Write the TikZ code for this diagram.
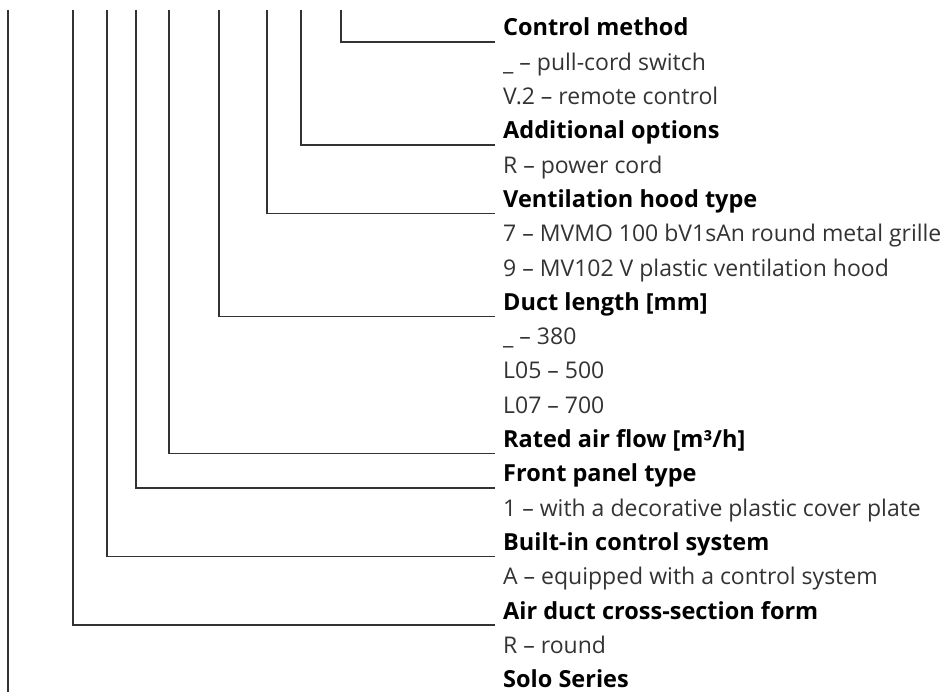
\documentclass[tikz,border=0pt]{standalone}
\usepackage{fontspec}
\setmainfont{Open Sans}

\tikzset{
	head/.style={anchor=base west, inner xsep=8pt, inner ysep=0pt,
		font=\fontsize{23.5}{28}\selectfont\bfseries},
	opt/.style={anchor=base west, inner xsep=8pt, inner ysep=0pt,
		text=black!80, font=\fontsize{23}{28}\selectfont},
	lead/.style={draw=black!80, line width=1.3pt},
}

\begin{document}
\begin{tikzpicture}[x=1pt, y=-1pt]
	\clip (0,0) rectangle (945,692);
	% legend column, one row under the other
	\node[head] (ctrl) at (495,36) {Control method};
	\node[opt] (ctrl1) at ([yshift=-34.3pt]ctrl.base west) {\_ – pull-cord switch};
	\node[opt] (ctrl2) at ([yshift=-34.3pt]ctrl1.base west) {V.2 – remote control};
	\node[head] (extra) at ([yshift=-34.3pt]ctrl2.base west) {Additional options};
	\node[opt] (extra1) at ([yshift=-34.3pt]extra.base west) {R – power cord};
	\node[head] (hood) at ([yshift=-34.3pt]extra1.base west) {Ventilation hood type};
	\node[opt] (hood1) at ([yshift=-34.3pt]hood.base west) {7 – MVMO 100 bV1sAn round metal grille};
	\node[opt] (hood2) at ([yshift=-34.3pt]hood1.base west) {9 – MV102 V plastic ventilation hood};
	\node[head] (len) at ([yshift=-34.3pt]hood2.base west) {Duct length [mm]};
	\node[opt] (len1) at ([yshift=-34.3pt]len.base west) {\_ – 380};
	\node[opt] (len2) at ([yshift=-34.3pt]len1.base west) {L05 – 500};
	\node[opt] (len3) at ([yshift=-34.3pt]len2.base west) {L07 – 700};
	\node[head] (flow) at ([yshift=-34.3pt]len3.base west) {Rated air flow [m³/h]};
	\node[head] (panel) at ([yshift=-34.3pt]flow.base west) {Front panel type};
	\node[opt] (panel1) at ([yshift=-34.3pt]panel.base west) {1 – with a decorative plastic cover plate};
	\node[head] (sys) at ([yshift=-34.3pt]panel1.base west) {Built-in control system};
	\node[opt] (sys1) at ([yshift=-34.3pt]sys.base west) {A – equipped with a control system};
	\node[head] (form) at ([yshift=-34.3pt]sys1.base west) {Air duct cross-section form};
	\node[opt] (form1) at ([yshift=-34.3pt]form.base west) {R – round};
	\node[head] (series) at ([yshift=-34.3pt]form1.base west) {Solo Series};

	% where each part of the code sits
	\coordinate (c-series) at (8,10);
	\coordinate (c-form) at (73,10);
	\coordinate (c-sys) at (107,10);
	\coordinate (c-panel) at (136,10);
	\coordinate (c-flow) at (169,10);
	\coordinate (c-len) at (219,10);
	\coordinate (c-hood) at (267,10);
	\coordinate (c-extra) at (301,10);
	\coordinate (c-ctrl) at (341,10);

	\draw[lead]
	(c-ctrl) |- ([yshift=-6pt]ctrl.base west)
	(c-extra) |- ([yshift=-6pt]extra.base west)
	(c-hood) |- ([yshift=-6pt]hood.base west)
	(c-len) |- ([yshift=-6pt]len.base west)
	(c-flow) |- ([yshift=-6pt]flow.base west)
	(c-panel) |- ([yshift=-6pt]panel.base west)
	(c-sys) |- ([yshift=-6pt]sys.base west)
	(c-form) |- ([yshift=-6pt]form.base west)
	(c-series) |- ([yshift=-6pt]series.base west)
	;
\end{tikzpicture}
\end{document}
